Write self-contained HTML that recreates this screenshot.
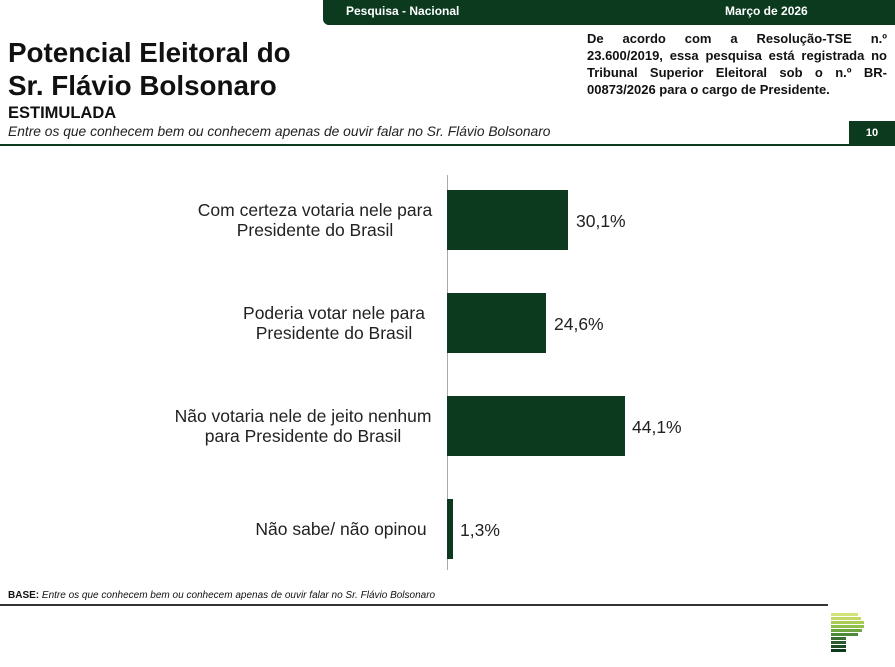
<!DOCTYPE html>
<html><head><meta charset="utf-8"><style>
body{margin:0;width:895px;height:667px;position:relative;background:#fff;font-family:"Liberation Sans",Arial,sans-serif;overflow:hidden}
.a{position:absolute}
.hb{left:323px;top:0;width:572px;height:25px;background:#0b3a1e;border-bottom-left-radius:6px;color:#fff;font-weight:bold;font-size:12px}
.lbl{position:absolute;text-align:center;font-size:17.5px;color:#222;line-height:20px;width:400px;white-space:nowrap}
.bar{position:absolute;left:447px;height:60px;background:#0b3a1e}
.val{position:absolute;font-size:17.5px;color:#222}
.j{display:block;text-align:justify;text-align-last:justify;height:17px}
</style></head><body>
<div class="a hb"><span class="a" style="left:23px;top:4px">Pesquisa - Nacional</span><span class="a" style="left:402px;top:4px">Março de 2026</span></div>
<div class="a" style="left:8px;top:36px;font-size:27.8px;font-weight:bold;line-height:33px;color:#111">Potencial Eleitoral do<br>Sr. Flávio Bolsonaro</div>
<div class="a" style="left:8px;top:104px;font-size:16.5px;font-weight:bold;color:#111">ESTIMULADA</div>
<div class="a" style="left:8px;top:124px;font-size:13.8px;font-style:italic;color:#222">Entre os que conhecem bem ou conhecem apenas de ouvir falar no Sr. Flávio Bolsonaro</div>
<div class="a" style="left:587px;top:30px;width:300px;font-size:13px;font-weight:bold;line-height:17px;color:#111">
<span class="j">De acordo com a Resolução-TSE n.º</span>
<span class="j">23.600/2019, essa pesquisa está registrada no</span>
<span class="j">Tribunal Superior Eleitoral sob o n.º BR-</span>
<span style="display:block">00873/2026 para o cargo de Presidente.</span></div>
<div class="a" style="left:849px;top:121px;width:46px;height:24px;background:#0b3a1e;color:#fff;font-weight:bold;font-size:11px;text-align:center;line-height:24px">10</div>
<div class="a" style="left:0;top:144px;width:895px;height:2px;background:#0b3a1e"></div>
<div class="a" style="left:447px;top:175px;width:1px;height:395px;background:#aaa"></div>
<div class="lbl" style="top:200px;left:115px">Com certeza votaria nele para<br>Presidente do Brasil</div>
<div class="bar" style="top:190px;width:121px"></div><div class="val" style="left:576px;top:211px">30,1%</div>
<div class="lbl" style="top:303px;left:134px">Poderia votar nele para<br>Presidente do Brasil</div>
<div class="bar" style="top:293px;width:99px"></div><div class="val" style="left:554px;top:314px">24,6%</div>
<div class="lbl" style="top:406px;left:103px">Não votaria nele de jeito nenhum<br>para Presidente do Brasil</div>
<div class="bar" style="top:396px;width:178px"></div><div class="val" style="left:632px;top:417px">44,1%</div>
<div class="lbl" style="top:519px;left:141px">Não sabe/ não opinou</div>
<div class="bar" style="top:499px;width:6px"></div><div class="val" style="left:460px;top:520px">1,3%</div>
<div class="a" style="left:8px;top:590px;font-size:10px;color:#111"><b>BASE:</b> <i>Entre os que conhecem bem ou conhecem apenas de ouvir falar no Sr. Flávio Bolsonaro</i></div>
<div class="a" style="left:0;top:604px;width:828px;height:2px;background:#333"></div>
<div class="a" style="left:831px;top:613px">
<div style="width:27px;height:3px;background:#d4e27a;margin-bottom:1px"></div>
<div style="width:30px;height:3px;background:#c2d966;margin-bottom:1px"></div>
<div style="width:33px;height:3px;background:#a9cc55;margin-bottom:1px"></div>
<div style="width:33px;height:3px;background:#8fbf48;margin-bottom:1px"></div>
<div style="width:31px;height:3px;background:#6fa640;margin-bottom:1px"></div>
<div style="width:27px;height:3px;background:#4e8a38;margin-bottom:1px"></div>
<div style="width:15px;height:3px;background:#3a6e34;margin-bottom:1px"></div>
<div style="width:15px;height:3px;background:#2b5a2c;margin-bottom:1px"></div>
<div style="width:15px;height:3px;background:#1e4a24;margin-bottom:1px"></div>
<div style="width:15px;height:3px;background:#0b3a1e"></div>
</div>
</body></html>
